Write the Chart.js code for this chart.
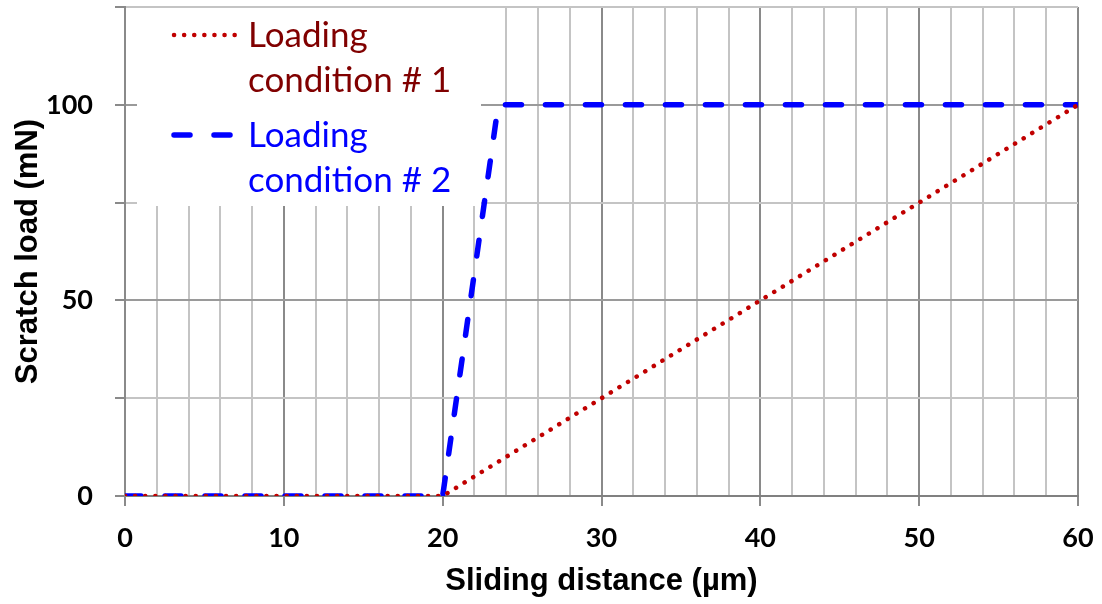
<!DOCTYPE html>
<html>
<head>
<meta charset="utf-8">
<script src="https://cdn.jsdelivr.net/npm/chart.js@4"></script>
<style>
    body { margin: 0; background: #fff; }
    #wrap { width: 1102px; height: 604px; }
</style>
</head>
<body>
<div id="wrap"><canvas id="scratch-chart" width="1102" height="604"></canvas></div>
<script>
// Loading condition #1: linear ramp from 20 to 60 um
const distance1 = [0, 20, 60];
const load1 = [0, 0, 100];

// Loading condition #2: steep ramp then constant
const distance2 = [0, 20, 23.5, 60];
const load2 = [0, 0, 100, 100];

const legendLines = [
    ['Loading', 'condition # 1'],
    ['Loading', 'condition # 2']
];

const xTitle = 'Sliding distance (µm)';
const yTitle = 'Scratch load (mN)';

const FONT = 'Lato, "Open Sans", sans-serif';
const TITLE_FONT = '"Liberation Sans", Arial, sans-serif';

function toPoints(xs, ys) {
    return xs.map((x, i) => ({ x: x, y: ys[i] }));
}

// Legend box sits inside the plot, covering the grid
const boxLegend = {
    id: 'boxLegend',
    beforeDatasetsDraw(chart) {
        const ctx = chart.ctx;
        const area = chart.chartArea;
        const left = area.left;
        const top = area.top;

        ctx.save();
        ctx.fillStyle = '#ffffff';
        ctx.fillRect(left + 12, top + 1, 344, 198);

        const items = [
            { color: '#c00000', text: '#800000', dash: [0.1, 10], width: 4.5, y: top + 28 },
            { color: '#0000ff', text: '#0000ff', dash: [16, 24], width: 5.5, y: top + 128 }
        ];

        items.forEach((item, i) => {
            ctx.beginPath();
            ctx.strokeStyle = item.color;
            ctx.lineWidth = item.width;
            ctx.lineCap = 'round';
            ctx.setLineDash(item.dash);
            ctx.moveTo(left + 49, item.y);
            ctx.lineTo(left + 110, item.y);
            ctx.stroke();
            ctx.setLineDash([]);

            ctx.fillStyle = item.text;
            ctx.font = '35px ' + FONT;
            ctx.textBaseline = 'alphabetic';
            ctx.textAlign = 'left';
            ctx.fillText(legendLines[i][0], left + 123, item.y + 12);
            ctx.fillText(legendLines[i][1], left + 123, item.y + 57);
        });
        ctx.restore();
    }
};

const chart = new Chart(document.getElementById('scratch-chart'), {
    type: 'line',
    data: {
        datasets: [{
            label: legendLines[0].join(' '),
            data: toPoints(distance1, load1),
            borderColor: '#c00000',
            borderWidth: 4.5,
            borderDash: [0.1, 10],
            borderCapStyle: 'round',
            pointRadius: 0,
            tension: 0,
            fill: false
        }, {
            label: legendLines[1].join(' '),
            data: toPoints(distance2, load2),
            borderColor: '#0000ff',
            borderWidth: 5.5,
            borderDash: [16, 24],
            borderCapStyle: 'round',
            pointRadius: 0,
            tension: 0,
            fill: false
        }]
    },
    options: {
        responsive: false,
        animation: false,
        layout: {
            padding: { top: 7, right: 24, left: 0, bottom: 0 }
        },
        plugins: {
            legend: { display: false },
            tooltip: { enabled: false }
        },
        scales: {
            x: {
                type: 'linear',
                min: 0,
                max: 60,
                afterFit: scale => {
                    scale.height = 108;
                    scale.paddingLeft = 0;
                    scale.paddingRight = 0;
                },
                border: { display: true, color: '#808080', width: 2 },
                grid: {
                    lineWidth: 2,
                    tickLength: 10,
                    color: c => c.tick && c.tick.value % 10 === 0 ? '#8a8a8a' : '#c4c4c4',
                    tickColor: c => c.tick && c.tick.value % 10 === 0 ? '#8a8a8a' : 'rgba(0,0,0,0)'
                },
                ticks: {
                    stepSize: 2,
                    autoSkip: false,
                    maxRotation: 0,
                    padding: 16,
                    color: '#000',
                    font: { family: FONT, size: 27, weight: 'bold' },
                    callback: v => v % 10 === 0 ? v : ''
                },
                title: {
                    display: true,
                    text: xTitle,
                    color: '#000',
                    font: { family: TITLE_FONT, size: 31, weight: 'bold' },
                    padding: { top: 0, bottom: 4 }
                }
            },
            y: {
                min: 0,
                max: 125,
                afterFit: scale => {
                    scale.width = 125;
                    scale.paddingTop = 0;
                    scale.paddingBottom = 0;
                },
                border: { display: true, color: '#8a8a8a', width: 2 },
                grid: {
                    lineWidth: 2,
                    tickLength: 10,
                    color: c => c.tick && c.tick.value % 50 === 0 ? '#9a9a9a' : '#c4c4c4',
                    tickColor: '#8a8a8a'
                },
                ticks: {
                    stepSize: 25,
                    padding: 22,
                    color: '#000',
                    font: { family: FONT, size: 27, weight: 'bold' },
                    callback: v => v % 50 === 0 ? v : ''
                },
                title: {
                    display: true,
                    text: yTitle,
                    color: '#000',
                    font: { family: TITLE_FONT, size: 31, weight: 'bold' },
                    padding: { top: 10, bottom: 0 }
                }
            }
        }
    },
    plugins: [boxLegend]
});
</script>
</body>
</html>
